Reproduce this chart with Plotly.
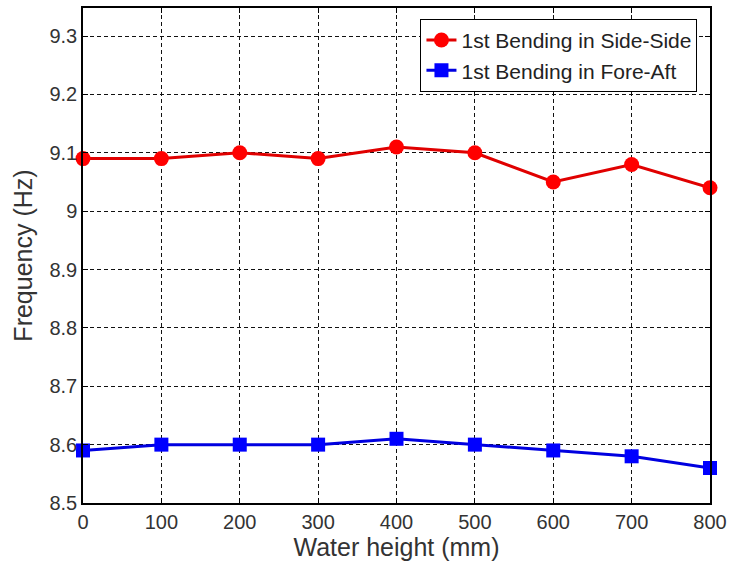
import plotly.graph_objects as go

water_height = [0, 100, 200, 300, 400, 500, 600, 700, 800]
side_side = [9.09, 9.09, 9.10, 9.09, 9.11, 9.10, 9.05, 9.08, 9.04]
fore_aft = [8.59, 8.60, 8.60, 8.60, 8.61, 8.60, 8.59, 8.58, 8.56]
y_ticks = [8.5, 8.6, 8.7, 8.8, 8.9, 9.0, 9.1, 9.2, 9.3]
y_tick_text = ["8.5", "8.6", "8.7", "8.8", "8.9", "9", "9.1", "9.2", "9.3"]
x_ticks = [0, 100, 200, 300, 400, 500, 600, 700, 800]

fig = go.Figure()
fig.add_trace(go.Scatter(
    x=water_height, y=side_side, mode="lines+markers",
    name="1st Bending in Side-Side",
    line=dict(color="#e00000", width=3),
    marker=dict(symbol="circle", size=15, color="#ff0000"),
    cliponaxis=False,
))
fig.add_trace(go.Scatter(
    x=water_height, y=fore_aft, mode="lines+markers",
    name="1st Bending in Fore-Aft",
    line=dict(color="#0000e0", width=3),
    marker=dict(symbol="square", size=14, color="#0000ff"),
    cliponaxis=False,
))

axis_common = dict(
    showline=True, linecolor="black", linewidth=1.5, mirror="ticks",
    showgrid=True, gridcolor="#111111", griddash="4px,3px", gridwidth=1.2,
    ticks="inside", ticklen=5, tickcolor="black",
    zeroline=False,
    tickfont=dict(family="Liberation Sans, Arial", size=20, color="#333333"),
)

fig.update_layout(
    width=733, height=568,
    margin=dict(l=83, r=20, t=6, b=65),
    paper_bgcolor="white", plot_bgcolor="white",
    font=dict(family="Liberation Sans, Arial", color="#333333"),
    xaxis=dict(
        range=[0, 800], tickmode="array", tickvals=x_ticks,
        title=dict(text="Water height (mm)", font=dict(size=25, color="#333333"), standoff=4),
        **axis_common,
    ),
    yaxis=dict(
        range=[8.5, 9.348], tickmode="array", tickvals=y_ticks, ticktext=y_tick_text,
        title=dict(text="Frequency (Hz)", font=dict(size=25, color="#333333"), standoff=10),
        **axis_common,
    ),
    legend=dict(
        x=0.98, y=0.978, xanchor="right", yanchor="top",
        bgcolor="white", bordercolor="black", borderwidth=1,
        font=dict(family="Liberation Sans, Arial", size=21, color="#222222"),
        tracegroupgap=0, itemwidth=30,
    ),
    showlegend=True,
)

fig.write_html("out.html")
